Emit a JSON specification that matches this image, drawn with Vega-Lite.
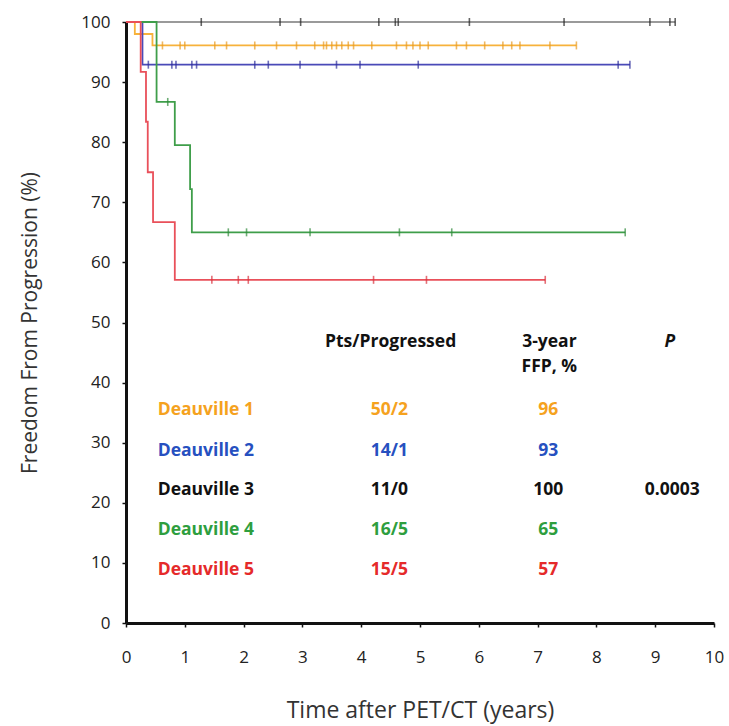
{
  "$schema": "https://vega.github.io/schema/vega-lite/v6.json",
  "width": 588,
  "height": 601,
  "autosize": {"type": "none"},
  "padding": {"left": 126, "top": 22, "right": 15, "bottom": 103},
  "background": "white",
  "config": {
    "view": {"stroke": null},
    "font": "Open Sans",
    "axis": {
      "grid": false,
      "domainColor": "#111",
      "domainWidth": 3,
      "tickColor": "#111",
      "tickSize": 4,
      "tickWidth": 1.5,
      "labelFont": "Open Sans",
      "labelFontSize": 17,
      "labelColor": "#222",
      "titleFont": "Open Sans",
      "titleFontSize": 21,
      "titleFontWeight": "normal",
      "titleColor": "#333"
    }
  },
  "datasets": {
    "curves": [
      {"g": "D3", "t": 0, "s": 100}, {"g": "D3", "t": 9.34, "s": 100},
      {"g": "D1", "t": 0, "s": 100}, {"g": "D1", "t": 0.15, "s": 98}, {"g": "D1", "t": 0.45, "s": 96.1}, {"g": "D1", "t": 7.66, "s": 96.1},
      {"g": "D2", "t": 0, "s": 100}, {"g": "D2", "t": 0.28, "s": 92.9}, {"g": "D2", "t": 8.57, "s": 92.9},
      {"g": "D4", "t": 0, "s": 100}, {"g": "D4", "t": 0.52, "s": 86.7}, {"g": "D4", "t": 0.83, "s": 79.5}, {"g": "D4", "t": 1.09, "s": 72.2}, {"g": "D4", "t": 1.12, "s": 65}, {"g": "D4", "t": 8.49, "s": 65},
      {"g": "D5", "t": 0, "s": 100}, {"g": "D5", "t": 0.25, "s": 91.7}, {"g": "D5", "t": 0.34, "s": 83.4}, {"g": "D5", "t": 0.37, "s": 75}, {"g": "D5", "t": 0.46, "s": 66.7}, {"g": "D5", "t": 0.83, "s": 57.1}, {"g": "D5", "t": 7.13, "s": 57.1}
    ],
    "censor": [
      {"g": "D3", "t": 1.28, "s": 100}, {"g": "D3", "t": 2.62, "s": 100}, {"g": "D3", "t": 2.97, "s": 100}, {"g": "D3", "t": 4.3, "s": 100}, {"g": "D3", "t": 4.58, "s": 100}, {"g": "D3", "t": 4.63, "s": 100}, {"g": "D3", "t": 5.84, "s": 100}, {"g": "D3", "t": 7.45, "s": 100}, {"g": "D3", "t": 8.91, "s": 100}, {"g": "D3", "t": 9.25, "s": 100}, {"g": "D3", "t": 9.34, "s": 100},
      {"g": "D1", "t": 0.62, "s": 96.1}, {"g": "D1", "t": 0.92, "s": 96.1}, {"g": "D1", "t": 1.0, "s": 96.1}, {"g": "D1", "t": 1.51, "s": 96.1}, {"g": "D1", "t": 1.71, "s": 96.1}, {"g": "D1", "t": 2.19, "s": 96.1}, {"g": "D1", "t": 2.56, "s": 96.1}, {"g": "D1", "t": 2.9, "s": 96.1}, {"g": "D1", "t": 3.21, "s": 96.1}, {"g": "D1", "t": 3.36, "s": 96.1}, {"g": "D1", "t": 3.41, "s": 96.1}, {"g": "D1", "t": 3.5, "s": 96.1}, {"g": "D1", "t": 3.58, "s": 96.1}, {"g": "D1", "t": 3.67, "s": 96.1}, {"g": "D1", "t": 3.78, "s": 96.1}, {"g": "D1", "t": 3.87, "s": 96.1}, {"g": "D1", "t": 4.18, "s": 96.1}, {"g": "D1", "t": 4.6, "s": 96.1}, {"g": "D1", "t": 4.77, "s": 96.1}, {"g": "D1", "t": 4.88, "s": 96.1}, {"g": "D1", "t": 5.0, "s": 96.1}, {"g": "D1", "t": 5.14, "s": 96.1}, {"g": "D1", "t": 5.62, "s": 96.1}, {"g": "D1", "t": 5.79, "s": 96.1}, {"g": "D1", "t": 6.1, "s": 96.1}, {"g": "D1", "t": 6.41, "s": 96.1}, {"g": "D1", "t": 6.56, "s": 96.1}, {"g": "D1", "t": 6.7, "s": 96.1}, {"g": "D1", "t": 7.21, "s": 96.1}, {"g": "D1", "t": 7.66, "s": 96.1},
      {"g": "D2", "t": 0.38, "s": 92.9}, {"g": "D2", "t": 0.78, "s": 92.9}, {"g": "D2", "t": 0.85, "s": 92.9}, {"g": "D2", "t": 1.12, "s": 92.9}, {"g": "D2", "t": 1.2, "s": 92.9}, {"g": "D2", "t": 2.19, "s": 92.9}, {"g": "D2", "t": 2.42, "s": 92.9}, {"g": "D2", "t": 2.96, "s": 92.9}, {"g": "D2", "t": 3.58, "s": 92.9}, {"g": "D2", "t": 3.98, "s": 92.9}, {"g": "D2", "t": 4.97, "s": 92.9}, {"g": "D2", "t": 8.37, "s": 92.9}, {"g": "D2", "t": 8.57, "s": 92.9},
      {"g": "D4", "t": 0.71, "s": 86.7}, {"g": "D4", "t": 1.74, "s": 65}, {"g": "D4", "t": 2.05, "s": 65}, {"g": "D4", "t": 3.13, "s": 65}, {"g": "D4", "t": 4.65, "s": 65}, {"g": "D4", "t": 5.54, "s": 65}, {"g": "D4", "t": 8.49, "s": 65},
      {"g": "D5", "t": 1.46, "s": 57.1}, {"g": "D5", "t": 1.91, "s": 57.1}, {"g": "D5", "t": 2.08, "s": 57.1}, {"g": "D5", "t": 4.21, "s": 57.1}, {"g": "D5", "t": 5.11, "s": 57.1}, {"g": "D5", "t": 7.13, "s": 57.1}
    ],
    "table": [
      {"col": "c", "g": "D3", "t": 4.5, "s": 46.7, "label": "Pts/Progressed"},
      {"col": "c", "g": "D3", "t": 7.2, "s": 46.7, "label": "3-year"},
      {"col": "c", "g": "D3", "t": 7.2, "s": 42.6, "label": "FFP, %"},
      {"col": "l", "g": "D1", "t": 0.54, "s": 35.4, "label": "Deauville 1"},
      {"col": "l", "g": "D2", "t": 0.54, "s": 28.7, "label": "Deauville 2"},
      {"col": "l", "g": "D3", "t": 0.54, "s": 22.1, "label": "Deauville 3"},
      {"col": "l", "g": "D4", "t": 0.54, "s": 15.5, "label": "Deauville 4"},
      {"col": "l", "g": "D5", "t": 0.54, "s": 8.8, "label": "Deauville 5"},
      {"col": "c", "g": "D1", "t": 4.48, "s": 35.4, "label": "50/2"},
      {"col": "c", "g": "D2", "t": 4.48, "s": 28.7, "label": "14/1"},
      {"col": "c", "g": "D3", "t": 4.48, "s": 22.1, "label": "11/0"},
      {"col": "c", "g": "D4", "t": 4.48, "s": 15.5, "label": "16/5"},
      {"col": "c", "g": "D5", "t": 4.48, "s": 8.8, "label": "15/5"},
      {"col": "c", "g": "D1", "t": 7.18, "s": 35.4, "label": "96"},
      {"col": "c", "g": "D2", "t": 7.18, "s": 28.7, "label": "93"},
      {"col": "c", "g": "D3", "t": 7.18, "s": 22.1, "label": "100"},
      {"col": "c", "g": "D4", "t": 7.18, "s": 15.5, "label": "65"},
      {"col": "c", "g": "D5", "t": 7.18, "s": 8.8, "label": "57"},
      {"col": "c", "g": "D3", "t": 9.29, "s": 22.1, "label": "0.0003"},
      {"col": "i", "g": "D3", "t": 9.25, "s": 46.7, "label": "P"}
    ]
  },
  "encoding": {
    "x": {"field": "t", "type": "quantitative", "scale": {"domain": [0, 10], "nice": false, "zero": true},
      "axis": {"values": [0,1,2,3,4,5,6,7,8,9,10], "title": "Time after PET/CT (years)", "labelPadding": 22, "titlePadding": 34, "titleFontSize": 23, "labelFlush": false}},
    "y": {"field": "s", "type": "quantitative", "scale": {"domain": [0, 100], "nice": false},
      "axis": {"values": [0,10,20,30,40,50,60,70,80,90,100], "title": "Freedom From Progression (%)", "labelPadding": 12, "titlePadding": 40, "labelFlush": false}}
  },
  "layer": [
    {
      "data": {"name": "curves"},
      "mark": {"type": "line", "interpolate": "step-after", "strokeWidth": 1.8},
      "encoding": {
        "color": {"field": "g", "type": "nominal", "legend": null,
          "scale": {"domain": ["D1", "D2", "D3", "D4", "D5"], "range": ["#f7b23b", "#4a4ab8", "#9a9a9a", "#3f9e4a", "#e9505a"]}},
        "order": {"field": "g"}
      }
    },
    {
      "data": {"name": "censor"},
      "mark": {"type": "tick", "orient": "vertical", "size": 8, "thickness": 1.6},
      "encoding": {
        "color": {"field": "g", "type": "nominal", "legend": null,
          "scale": {"domain": ["D1", "D2", "D3", "D4", "D5"], "range": ["#e89a20", "#2e2e9a", "#222222", "#2f8a3a", "#d8303c"]}}
      }
    },
    {
      "data": {"name": "table"},
      "transform": [{"filter": "datum.col == 'l'"}],
      "mark": {"type": "text", "align": "left", "baseline": "middle", "fontSize": 17.5, "fontWeight": "bold", "font": "Open Sans"},
      "encoding": {
        "text": {"field": "label"},
        "color": {"field": "g", "type": "nominal", "legend": null,
          "scale": {"domain": ["D1", "D2", "D3", "D4", "D5"], "range": ["#f5a21e", "#2650c0", "#111111", "#2e9e3e", "#e52a2a"]}}
      }
    },
    {
      "data": {"name": "table"},
      "transform": [{"filter": "datum.col == 'c'"}],
      "mark": {"type": "text", "align": "center", "baseline": "middle", "fontSize": 17.5, "fontWeight": "bold", "font": "Open Sans"},
      "encoding": {
        "text": {"field": "label"},
        "color": {"field": "g", "type": "nominal", "legend": null,
          "scale": {"domain": ["D1", "D2", "D3", "D4", "D5"], "range": ["#f5a21e", "#2650c0", "#111111", "#2e9e3e", "#e52a2a"]}}
      }
    },
    {
      "data": {"name": "table"},
      "transform": [{"filter": "datum.col == 'i'"}],
      "mark": {"type": "text", "align": "center", "baseline": "middle", "fontSize": 17.5, "fontWeight": "bold", "fontStyle": "italic", "font": "Open Sans", "color": "#111111"},
      "encoding": {
        "text": {"field": "label"}
      }
    }
  ],
  "resolve": {"scale": {"color": "independent"}}
}
